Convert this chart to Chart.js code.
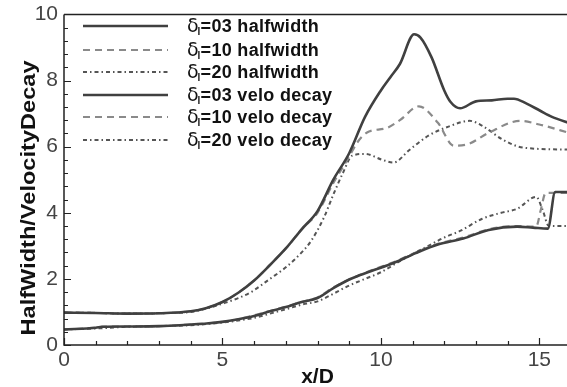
<!DOCTYPE html>
<html>
<head>
<meta charset="utf-8">
<script src="https://cdn.jsdelivr.net/npm/chart.js@4.4.1/dist/chart.umd.min.js"></script>
<style>
html,body{margin:0;padding:0;background:#fff;overflow:hidden;width:567px;height:387px;}
#wrap{position:absolute;left:0;top:0;width:572px;height:387px;}
</style>
</head>
<body>
<div id="wrap"><canvas id="c" width="572" height="387"></canvas></div>
<script>
// ---- data ----
const xTickLabels = [0, 5, 10, 15];
const yTickLabels = [0, 2, 4, 6, 8, 10];
const seriesLabels = ["=03 halfwidth", "=10 halfwidth", "=20 halfwidth", "=03 velo decay", "=10 velo decay", "=20 velo decay"];

const xHw03 = [0, 1, 2, 3, 4, 4.5, 5, 5.5, 6, 6.5, 7, 7.5, 8, 8.5, 9, 9.5, 10, 10.3, 10.6, 11.05, 11.25, 11.6, 12, 12.2, 12.5, 13, 13.5, 14, 14.2, 14.6, 15, 15.4, 16];
const yHw03 = [0.98, 0.97, 0.95, 0.96, 1.02, 1.12, 1.3, 1.58, 1.95, 2.42, 2.92, 3.5, 4.05, 5.0, 5.8, 6.9, 7.7, 8.1, 8.5, 9.4, 9.3, 8.7, 7.7, 7.35, 7.16, 7.37, 7.4, 7.45, 7.45, 7.3, 7.1, 6.9, 6.7];

const xHw10 = [0, 1, 2, 3, 4, 4.5, 5, 5.5, 6, 6.5, 7, 7.5, 8, 8.5, 9, 9.25, 9.55, 10.2, 10.6, 11.2, 11.8, 12.3, 12.7, 13.4, 14.4, 15, 16];
const yHw10 = [0.98, 0.97, 0.95, 0.96, 1.02, 1.12, 1.3, 1.58, 1.95, 2.42, 2.92, 3.5, 4.0, 4.9, 5.7, 6.12, 6.42, 6.57, 6.8, 7.22, 6.72, 6.03, 6.06, 6.42, 6.78, 6.67, 6.4];

const xHw20 = [0, 1, 2, 3, 4, 4.5, 5, 5.5, 5.9, 6.5, 7, 7.5, 7.8, 8.2, 8.5, 8.8, 9.1, 9.5, 10.05, 10.4, 10.9, 11.5, 12.2, 12.8, 13.2, 13.85, 14.5, 16];
const yHw20 = [0.98, 0.97, 0.95, 0.96, 1.0, 1.1, 1.25, 1.42, 1.6, 2.0, 2.35, 2.8, 3.15, 3.85, 4.55, 5.2, 5.73, 5.78, 5.6, 5.52, 5.9, 6.33, 6.63, 6.78, 6.63, 6.21, 5.97, 5.91];

const xVd03 = [0, 1, 1.2, 2, 3, 4, 4.5, 5, 5.5, 6, 6.5, 7, 7.5, 8, 8.5, 9, 9.3, 9.7, 10.4, 11.1, 11.8, 12.6, 13.4, 14.3, 14.8, 15.27, 15.5, 16];
const yVd03 = [0.47, 0.52, 0.55, 0.56, 0.57, 0.62, 0.65, 0.7, 0.78, 0.88, 1.02, 1.15, 1.3, 1.42, 1.72, 1.98, 2.1, 2.24, 2.48, 2.78, 3.04, 3.22, 3.48, 3.58, 3.55, 3.52, 4.63, 4.63];

const xVd10 = [0, 1, 1.2, 2, 3, 4, 4.5, 5, 5.5, 6, 6.5, 7, 7.5, 8, 8.5, 9, 9.3, 9.7, 10.4, 11.1, 11.8, 12.6, 13.4, 14.3, 14.9, 15.05, 15.2, 16];
const yVd10 = [0.47, 0.52, 0.55, 0.56, 0.57, 0.62, 0.65, 0.7, 0.78, 0.9, 1.03, 1.16, 1.3, 1.44, 1.74, 1.98, 2.1, 2.26, 2.5, 2.8, 3.06, 3.25, 3.5, 3.6, 3.58, 4.1, 4.6, 4.6];

const xVd20 = [0, 1, 2, 3, 4, 5, 5.5, 6, 6.5, 7, 7.5, 8, 8.5, 9, 9.5, 10, 10.5, 11, 11.5, 12, 12.5, 13.2, 13.8, 14.3, 14.9, 15.1, 15.3, 16];
const yVd20 = [0.47, 0.5, 0.55, 0.57, 0.6, 0.68, 0.74, 0.82, 0.95, 1.08, 1.22, 1.32, 1.55, 1.8, 2.0, 2.2, 2.48, 2.75, 3.0, 3.25, 3.45, 3.82, 4.0, 4.12, 4.48, 4.1, 3.6, 3.6];

// ---- styles ----
const SOLID = {color: '#404040', width: 2.6, dash: []};
const DASH = {color: '#8a8a8a', width: 2.2, dash: [7, 5]};
const DASHDOT = {color: '#555555', width: 2.0, dash: [4, 3, 1.5, 3]};

function pts(xs, ys) { return xs.map((x, i) => ({x: x, y: ys[i]})); }
const seriesData = [pts(xHw03, yHw03), pts(xHw10, yHw10), pts(xHw20, yHw20), pts(xVd03, yVd03), pts(xVd10, yVd10), pts(xVd20, yVd20)];
const seriesStyle = [SOLID, DASH, DASHDOT, SOLID, DASH, DASHDOT];

const datasets = seriesData.map((d, i) => ({
  label: seriesLabels[i],
  data: d,
  borderColor: seriesStyle[i].color,
  borderWidth: seriesStyle[i].width,
  borderDash: seriesStyle[i].dash,
  pointRadius: 0,
  fill: false,
  cubicInterpolationMode: 'monotone',
  borderJoinStyle: 'round'
}));

const framePlugin = {
  id: 'frame',
  afterDraw(chart) {
    const ctx = chart.ctx, a = chart.chartArea, xs = chart.scales.x, ys = chart.scales.y;
    ctx.save();
    ctx.strokeStyle = '#222';
    ctx.lineWidth = 1.5;
    ctx.setLineDash([]);
    ctx.beginPath();
    ctx.moveTo(a.left, a.top); ctx.lineTo(a.right, a.top);
    ctx.moveTo(a.left, a.top); ctx.lineTo(a.left, a.bottom); ctx.lineTo(a.right, a.bottom);
    ctx.stroke();
    ctx.lineWidth = 1.2;
    ctx.beginPath();
    for (let v = 0; v <= 16; v++) {
      const px = Math.round(xs.getPixelForValue(v)) + 0.5;
      const L = (v % 5 === 0) ? 7 : 4;
      ctx.moveTo(px, a.bottom); ctx.lineTo(px, a.bottom - L);
    }
    for (let k = 0; k <= 25; k++) {
      const v = k * 0.4;
      const py = Math.round(ys.getPixelForValue(v)) + 0.5;
      const L = (k % 5 === 0) ? 7 : 4;
      ctx.moveTo(a.left, py); ctx.lineTo(a.left + L, py);
    }
    ctx.stroke();

    // legend
    const rowsY = [26, 50, 72, 95, 117, 140];
    for (let i = 0; i < 6; i++) {
      const y = rowsY[i], st = seriesStyle[i];
      ctx.strokeStyle = st.color; ctx.lineWidth = st.width; ctx.setLineDash(st.dash);
      ctx.beginPath(); ctx.moveTo(83, y); ctx.lineTo(168, y); ctx.stroke();
      ctx.setLineDash([]);
      ctx.fillStyle = '#111';
      ctx.textBaseline = 'middle';
      ctx.textAlign = 'left';
      let x = 187;
      ctx.font = '19px "DejaVu Sans"';
      ctx.fillText('\u03b4', x, y + 1);
      x += ctx.measureText('\u03b4').width;
      ctx.font = 'bold 10px "Liberation Sans"';
      ctx.fillText('l', x - 1, y + 6);
      x += 2;
      ctx.font = 'bold 18px "Liberation Sans"';
      ctx.letterSpacing = '0.3px';
      ctx.fillText(seriesLabels[i], x, y + 1);
      ctx.letterSpacing = '0px';
    }

    // axis titles
    ctx.fillStyle = '#111';
    ctx.font = 'bold 21px "Liberation Sans"';
    ctx.textAlign = 'center';
    ctx.textBaseline = 'alphabetic';
    ctx.fillText('x/D', (a.left + a.right) / 2, 383);

    ctx.save();
    ctx.translate(35, 198);
    ctx.rotate(-Math.PI / 2);
    ctx.font = 'bold 20px "Liberation Sans"';
    const t = 'HalfWidth/VelocityDecay';
    const w = ctx.measureText(t).width;
    ctx.scale(275 / w, 1);
    ctx.fillText(t, 0, 0);
    ctx.restore();
    ctx.restore();
  }
};

new Chart(document.getElementById('c'), {
  type: 'line',
  data: {datasets: datasets},
  options: {
    responsive: false,
    devicePixelRatio: 1,
    animation: false,
    layout: {padding: {top: 9, right: 1, left: 0, bottom: 0}},
    plugins: {legend: {display: false}, tooltip: {enabled: false}},
    scales: {
      x: {
        type: 'linear', min: 0, max: 16,
        grid: {display: false, drawTicks: false},
        border: {display: false},
        afterBuildTicks(s) { s.ticks = xTickLabels.map(v => ({value: v})); },
        afterFit(s) { s.height = 42; },
        ticks: {padding: 3, color: '#444', font: {family: 'Liberation Sans', size: 21, lineHeight: 1.2}, maxRotation: 0}
      },
      y: {
        type: 'linear', min: 0, max: 10,
        grid: {display: false, drawTicks: false},
        border: {display: false},
        afterBuildTicks(s) { s.ticks = yTickLabels.map(v => ({value: v})); },
        afterFit(s) { s.width = 64; },
        ticks: {padding: 6, color: '#444', font: {family: 'Liberation Sans', size: 21, lineHeight: 0.8}}
      }
    }
  },
  plugins: [framePlugin]
});
</script>
</body>
</html>
